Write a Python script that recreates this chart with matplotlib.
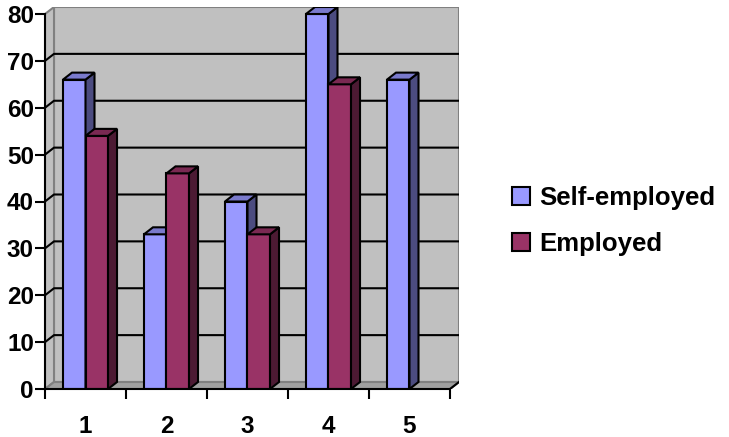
import matplotlib.pyplot as plt
import numpy as np
from matplotlib.patches import Polygon, Patch

categories = ["1", "2", "3", "4", "5"]
self_employed = [66, 33, 40, 80, 66]
employed = [54, 46, 33, 65, np.nan]
series_names = ["Self-employed", "Employed"]

# colours: front, side, top
SELF_COLS = ("#9999FF", "#4C4C80", "#7A7ACC")
EMP_COLS = ("#993366", "#4C1A33", "#7A2952")

plt.rcParams["font.family"] = ["Liberation Sans", "DejaVu Sans"]
plt.rcParams["font.weight"] = "bold"

W, H = 729, 437
fig = plt.figure(figsize=(W / 100, H / 100), dpi=100)
ax = fig.add_axes([45 / W, 48 / H, 414 / W, 382 / H])

DX = 9 / 81.0      # depth offset in x data units
DY = 7 / 4.6875    # depth offset in y data units
YMAX = 80
x0, x1 = 0.5, len(categories) + 0.5

ax.set_xlim(x0, x1 + DX)
ax.set_ylim(0, YMAX + DY)
ax.patch.set_visible(False)


def poly(pts, fc, ec, lw, z):
    ax.add_patch(Polygon(pts, closed=True, facecolor=fc, edgecolor=ec,
                         linewidth=lw, zorder=z, joinstyle="miter"))


# walls and floor
poly([(x0 + DX, DY), (x1 + DX, DY), (x1 + DX, YMAX + DY), (x0 + DX, YMAX + DY)],
     "#C0C0C0", "#808080", 1.5, 1)
poly([(x0, 0), (x0 + DX, DY), (x0 + DX, YMAX + DY), (x0, YMAX)],
     "#C0C0C0", "#808080", 1.5, 1)
poly([(x0, 0), (x1, 0), (x1 + DX, DY), (x0 + DX, DY)],
     "#A0A0A0", "#808080", 1.5, 1)

# gridlines on the walls
for g in range(10, YMAX, 10):
    ax.plot([x0, x0 + DX, x1 + DX], [g, g + DY, g + DY], color="black",
            lw=1.5, zorder=2, solid_capstyle="butt")
ax.plot([x1, x1 + DX], [0, DY], color="black", lw=1.5, zorder=2)

# bars
bw = 0.278
for i in range(len(categories)):
    c = i + 1
    for j, (vals, cols) in enumerate([(self_employed, SELF_COLS), (employed, EMP_COLS)]):
        v = vals[i]
        if np.isnan(v):
            continue
        l = c - bw if j == 0 else c
        r = l + bw
        z = 3 + i * 2 + j
        poly([(l, 0), (r, 0), (r, v), (l, v)], cols[0], "black", 1.5, z)
        poly([(r, 0), (r + DX, DY), (r + DX, v + DY), (r, v)], cols[1], "black", 1.5, z)
        poly([(l, v), (r, v), (r + DX, v + DY), (l + DX, v + DY)], cols[2], "black", 1.5, z)

# axes lines and ticks
for s in ["top", "right"]:
    ax.spines[s].set_visible(False)
ax.spines["left"].set_bounds(0, YMAX)
ax.spines["bottom"].set_bounds(x0, x1)
for s in ["left", "bottom"]:
    ax.spines[s].set_linewidth(1.5)
    ax.spines[s].set_zorder(20)

ax.set_yticks(np.arange(0, YMAX + 1, 10))
ax.tick_params(axis="y", direction="out", length=7, width=1.5, labelsize=17.5, pad=1)
ax.set_xticks(np.arange(x0, x1 + 0.01, 1.0))
ax.set_xticklabels([])
ax.tick_params(axis="x", which="major", direction="out", length=7, width=1.5)
ax.set_xticks(np.arange(1, len(categories) + 1), minor=True)
ax.set_xticklabels(categories, minor=True)
ax.tick_params(axis="x", which="minor", length=0, labelsize=17.5, pad=19)
for lab in ax.get_xticklabels(minor=True) + ax.get_yticklabels():
    lab.set_fontweight("bold")

handles = [Patch(facecolor=SELF_COLS[0], edgecolor="black", linewidth=1.5),
           Patch(facecolor=EMP_COLS[0], edgecolor="black", linewidth=1.5)]
fig.legend(handles, series_names, loc="center left", bbox_to_anchor=(0.685, 0.494),
           frameon=False, prop={"size": 18.5, "weight": "bold"},
           handlelength=0.68, handleheight=0.68, labelspacing=0.85,
           handletextpad=0.38, borderpad=0)

fig.savefig("out.png", dpi=100)
